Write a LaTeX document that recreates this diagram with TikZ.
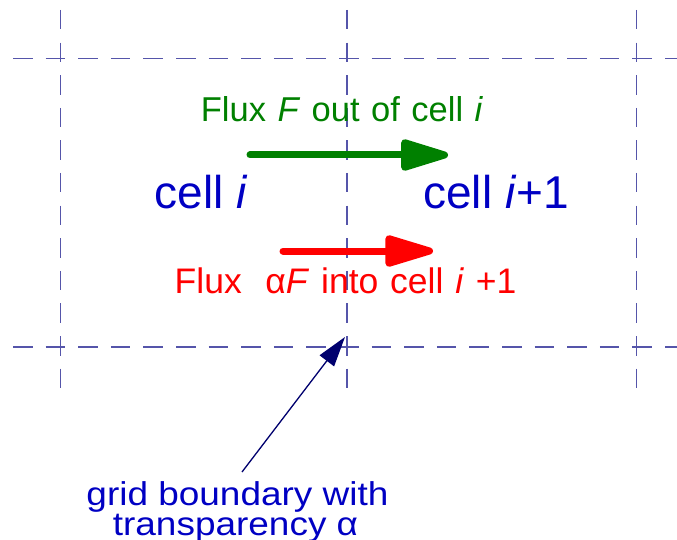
\documentclass[tikz,border=0pt]{standalone}
\usepackage{fontspec}
\usepackage{graphicx}
\setmainfont{Liberation Sans}
\newfontfamily\greenfont[WordSpace=1.7]{Liberation Sans}
\newfontfamily\redfont[WordSpace=1.2]{Liberation Sans}
\usetikzlibrary{arrows.meta}
\definecolor{gridc}{RGB}{85,85,170}
\definecolor{fluxgreen}{RGB}{0,128,0}
\definecolor{fluxred}{RGB}{255,0,0}
\definecolor{cellblue}{RGB}{0,0,195}
\definecolor{navyarrow}{RGB}{0,0,110}
\tikzset{
  gridline/.style={draw=gridc, line width=1.2pt, dash pattern=on 19.5pt off 13.1pt},
  fluxarrow/.style={line width=7pt, line cap=round, -{Triangle[length=56pt,width=32pt,round]}},
  lbl/.style={anchor=base, inner sep=0pt, outer sep=0pt},
}
\begin{document}
\begin{tikzpicture}[x=1pt,y=-1pt]
\useasboundingbox (0,0) rectangle (677,540);
% grid
\foreach \xx in {60.5,347,636.5} \draw[gridline] (\xx,10) -- (\xx,390);
\foreach \yy in {58.5,347} \draw[gridline] (13,\yy) -- (677,\yy);
% texts
\node[lbl, text=fluxgreen, font=\greenfont\fontsize{34.5}{40}\selectfont] (ftxt) at (342,122) {Flux \textit{F} out of cell \textit{i}};
\node[lbl, text=cellblue, font=\fontsize{46}{50}\selectfont] (c1) at (201,208) {cell \textit{i}};
\node[lbl, text=cellblue, font=\fontsize{46}{50}\selectfont] (c2) at (496,208) {cell \textit{i}+1};
\node[lbl, text=fluxred, font=\redfont\fontsize{35.5}{40}\selectfont] (rtxt) at (345.5,293.5) {Flux\ \ α\textit{F} into cell \textit{i} +1};
\node[lbl, text=cellblue, font=\fontsize{33}{36}\selectfont] (b1) at (237.5,505) {\scalebox{1.12}[1]{grid boundary with}};
\node[lbl, text=cellblue, font=\fontsize{33}{36}\selectfont] (b2) at (235.5,535) {\scalebox{1.12}[1]{transparency α}};
% arrows
\coordinate (gs) at (250,155);
\coordinate (ge) at (448,155);
\coordinate (rs) at (283,251);
\coordinate (re) at (433,251);
\coordinate (ns) at (242,472);
\coordinate (ne) at (345,337);
\draw[fluxarrow, draw=fluxgreen, fill=fluxgreen] (gs) -- (ge);
\draw[fluxarrow, draw=fluxred, fill=fluxred, -{Triangle[length=57pt,width=32pt,round]}] (rs) -- (re);
\draw[navyarrow, line width=1.3pt, -{Triangle[length=30pt,width=18pt]}, fill=navyarrow] (ns) -- (ne);
\end{tikzpicture}
\end{document}
